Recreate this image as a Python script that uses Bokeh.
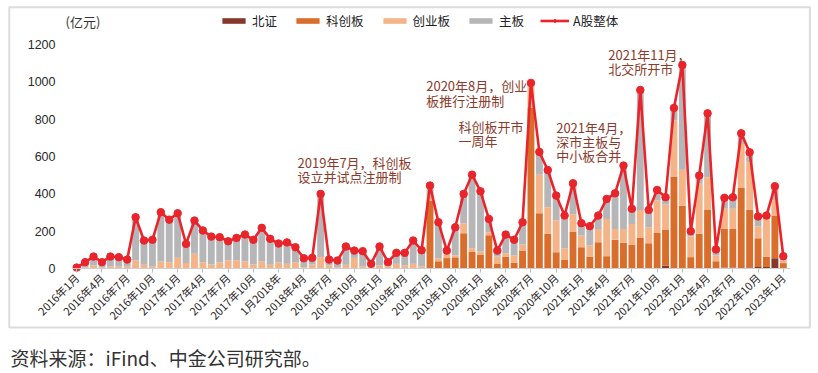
from math import pi
from bokeh.plotting import figure
from bokeh.models import (Range1d, FixedTicker, Legend, LegendItem, Label,
                          BoxAnnotation, ColumnDataSource)
from bokeh.embed import file_html
from bokeh.resources import INLINE

# ---------------- data (亿元, monthly 2016-01 .. 2023-01) ----------------
months = [f"{y}-{m:02d}" for y in range(2016, 2023) for m in range(1, 13)] + ["2023-01"]

bj = [0]*70 + [15, 0, 0, 0, 0, 0, 0, 5, 5, 0, 6, 8, 8, 55, 3]

kcb = [0]*42 + [365, 39, 56, 60, 189, 89, 75, 178, 27, 64, 32, 96, 862, 296, 186,
                87, 48, 198, 114, 64, 141, 66, 154, 138, 129, 164, 136, 191, 192,
                493, 337, 61, 186, 316, 39, 207, 207, 432, 310, 154, 56, 229, 26]

cyb = [0, 5, 16, 5, 11, 11, 11, 43, 20, 11, 37, 34, 57, 30, 79, 34, 21, 34, 43, 43,
       37, 21, 39, 20, 32, 25, 34, 7, 21, 61, 16, 7, 20, 57, 11, 7, 16, 11, 25, 16,
       25, 11, 26, 14, 26, 10, 54, 20, 16, 17, 37, 18, 38, 33, 113, 206, 142, 170,
       61, 91, 63, 59, 71, 200, 58, 74, 110, 150, 85, 173, 136, 300, 192, 110, 268,
       173, 31, 108, 108, 236, 254, 65, 202, 80, 14]

main = [5, 29, 48, 29, 53, 50, 37, 232, 130, 143, 265, 228, 239, 102, 178, 170, 150,
        134, 103, 121, 145, 133, 179, 139, 102, 115, 80, 48, 36, 339, 32, 36, 98, 39,
        82, 18, 102, 23, 59, 68, 125, 87, 54, 195, 14, 151, 157, 394, 323, 71, 32,
        100, 84, 119, 20, 123, 200, 134, 175, 168, 66, 104, 72, 107, 191, 340, 81,
        643, 93, 57, 39, 68, 562, 29, 44, 343, 32, 59, 62, 57, 53, 52, 18, 77, 23]

total = [5, 34, 64, 34, 64, 61, 48, 275, 150, 154, 302, 262, 296, 132, 257, 204, 171,
         168, 146, 164, 182, 154, 218, 159, 134, 140, 114, 55, 57, 400, 48, 43, 118,
         96, 93, 25, 118, 34, 84, 84, 150, 98, 445, 248, 96, 221, 400, 503, 414, 266,
         96, 182, 154, 248, 995, 625, 528, 391, 284, 457, 243, 227, 284, 373, 403,
         552, 320, 957, 314, 421, 382, 861, 1091, 200, 498, 832, 102, 379, 382, 725,
         623, 279, 284, 441, 66]

tick_labels = ["2016年1月", "2016年4月", "2016年7月", "2016年10月", "2017年1月",
               "2017年4月", "2017年7月", "2017年10月", "1月2018年", "2018年4月",
               "2018年7月", "2018年10月", "2019年1月", "2019年4月", "2019年7月",
               "2019年10月", "2020年1月", "2020年4月", "2020年7月", "2020年10月",
               "2021年1月", "2021年4月", "2021年7月", "2021年10月", "2022年1月",
               "2022年4月", "2022年7月", "2022年10月", "2023年1月"]
y_ticks = [0, 200, 400, 600, 800, 1000, 1200]

series_names = ["北证", "科创板", "创业板", "主板"]
series_colors = ["#86362A", "#D96E2C", "#F4B488", "#B6B6B8"]
line_name = "A股整体"
line_color = "#E9242A"

# ---------------- figure ----------------
xs = list(range(len(months)))
src = ColumnDataSource(dict(x=xs, bj=bj, kcb=kcb, cyb=cyb, main=main, total=total))

p = figure(width=816, height=371,
           min_border_left=0, min_border_right=0, min_border_top=0, min_border_bottom=0,
           x_range=Range1d(-9.061, 87.948), y_range=Range1d(-552.2, 1436.9),
           output_backend="svg", toolbar_location=None, tools="")
p.title.visible = False
p.outline_line_color = None
p.grid.visible = False
p.background_fill_color = "white"
p.border_fill_color = "white"

bars = p.vbar_stack(["bj", "kcb", "cyb", "main"], x="x", width=0.82,
                    fill_color=series_colors, line_color=None, source=src)
ln = p.line("x", "total", source=src, line_width=2.6, line_color=line_color)
dots = p.scatter("x", "total", source=src, size=7.5, fill_color=line_color,
                 line_color=line_color)

# axes (drawn at fixed data locations inside the frame)
tick_pos = xs[::3]
p.xaxis.fixed_location = 0
p.xaxis.bounds = (-0.5, 84.9)
p.xaxis.ticker = FixedTicker(ticks=tick_pos)
p.xaxis.major_label_overrides = {t: lab for t, lab in zip(tick_pos, tick_labels)}
p.xaxis.major_label_orientation = pi / 4
p.xaxis.major_label_text_font = "Noto Sans CJK SC"
p.xaxis.major_label_text_font_size = "11px"
p.xaxis.major_label_text_color = "#2B1F1F"
p.xaxis.major_label_standoff = 3
p.xaxis.axis_line_color = "#CFCFCF"
p.xaxis.axis_line_width = 1
p.xaxis.major_tick_line_color = "#BDBDBD"
p.xaxis.major_tick_out = 4
p.xaxis.major_tick_in = 0
p.xaxis.minor_tick_line_color = None

p.yaxis.fixed_location = -0.5
p.yaxis.ticker = FixedTicker(ticks=y_ticks)
p.yaxis.axis_line_color = None
p.yaxis.major_tick_line_color = None
p.yaxis.minor_tick_line_color = None
p.yaxis.major_label_standoff = 11
p.yaxis.major_label_text_font = "Liberation Sans"
p.yaxis.major_label_text_font_size = "12.5px"
p.yaxis.major_label_text_color = "#2A2A2A"

# legend
items = [LegendItem(label=n, renderers=[r]) for n, r in zip(series_names, bars)]
items.append(LegendItem(label=line_name, renderers=[ln, dots]))
legend = Legend(items=items, orientation="horizontal", location=(219, 341.5),
                glyph_width=29, glyph_height=7, label_standoff=4, spacing=16,
                padding=0, margin=0, border_line_color=None, background_fill_alpha=0,
                label_text_font="Noto Sans CJK SC", label_text_font_size="12.5px",
                label_text_color="#222222")
p.add_layout(legend)

# unit label
p.add_layout(Label(x=-1.33, y=1324, text="(亿元)", text_font="Noto Sans CJK SC",
                   text_font_size="13px", text_color="#333333", text_baseline="middle"))

# annotations
ann_color = "#8B3A2B"
anns = [
    (26.25, 618, "2019年7月，科创板\n设立并试点注册制"),
    (41.55, 1030, "2020年8月，创业\n板推行注册制"),
    (45.4, 812, "科创板开市\n一周年"),
    (57.0, 807, "2021年4月，\n深市主板与\n中小板合并"),
    (63.2, 1198, "2021年11月，\n北交所开市"),
]
for ax, ay, t in anns:
    p.add_layout(Label(x=ax, y=ay, text=t, text_font="Noto Sans CJK SC",
                       text_font_size="13px", text_color=ann_color,
                       text_baseline="top", text_align="left", text_line_height=0.75))

# frame box around the chart
p.add_layout(BoxAnnotation(left=-8.02, right=87.16, top=1400.7, bottom=-316.3,
                           fill_alpha=0, line_color="#8C8C8C", line_width=2))

# source
p.add_layout(Label(x=-7.87, y=-477, text="资料来源：iFind、中金公司研究部。",
                   text_font="Noto Sans CJK SC", text_font_size="19px",
                   text_color="#333333", text_baseline="middle"))

open("out.html", "w").write(file_html(p, INLINE))
